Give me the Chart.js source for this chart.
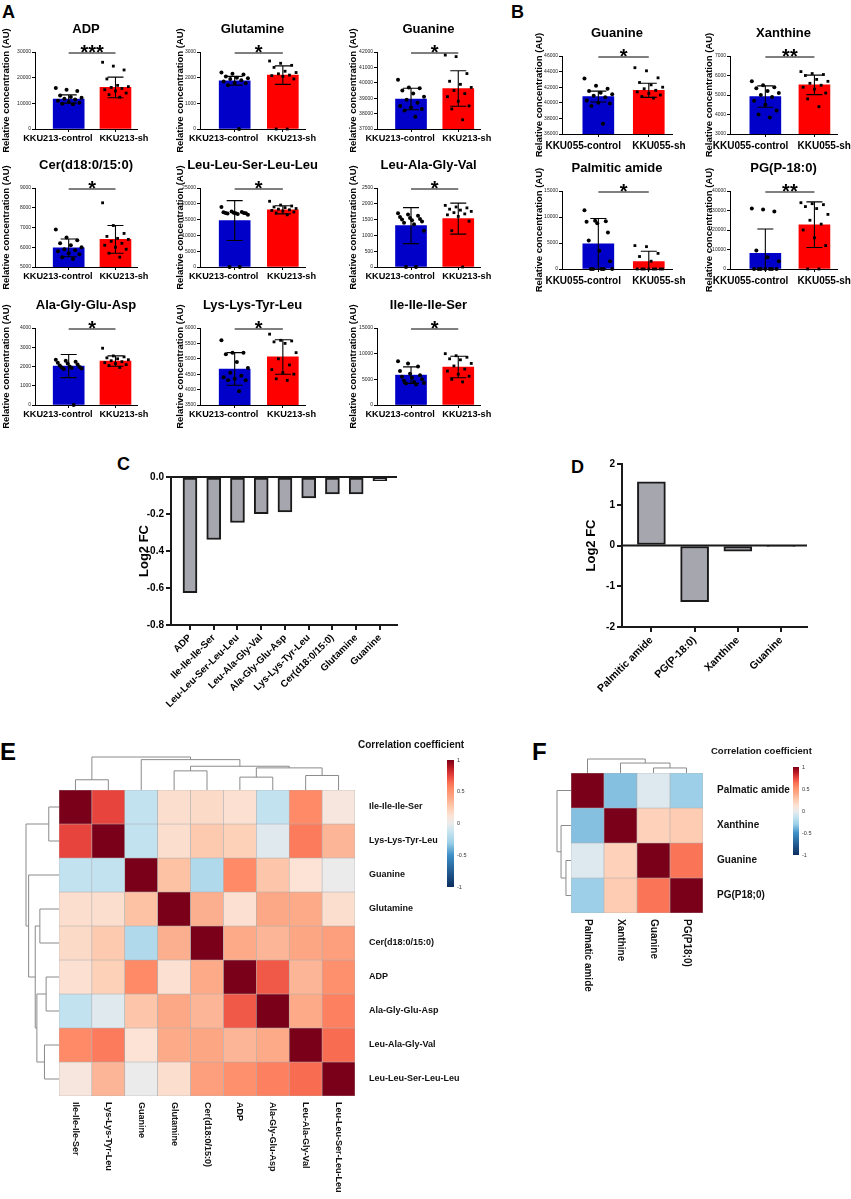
<!DOCTYPE html>
<html>
<head>
<meta charset="utf-8">
<script src="https://cdn.jsdelivr.net/npm/chart.js@4.4.1/dist/chart.umd.min.js"></script>
<style>
  body { margin: 0; background: #fff; width: 851px; height: 1199px; position: relative; overflow: hidden; font-family: "Liberation Sans", Arial, sans-serif; }
  canvas { position: absolute; }
  .lab { position: absolute; font-weight: bold; line-height: 1; color: #000; }
</style>
</head>
<body>
<div class="lab" style="left:2px;top:3px;font-size:18px">A</div>
<div class="lab" style="left:511px;top:3px;font-size:18px">B</div>
<div class="lab" style="left:117px;top:455px;font-size:18px">C</div>
<div class="lab" style="left:571px;top:458px;font-size:18px">D</div>
<div class="lab" style="left:0px;top:740px;font-size:24px">E</div>
<div class="lab" style="left:532px;top:740px;font-size:24px">F</div>
<script>
// ---- data ----
const groupsA = ['KKU213-control', 'KKU213-sh'];
const groupsB = ['KKU055-control', 'KKU055-sh'];

// panel A (KKU213) : individual samples, mean and SD per group
const adpControl = [16000, 15300, 14800, 13100, 12500, 12200, 11800, 11500, 11000, 10500, 10200, 9800, 9600];
const adpSh = [26000, 24500, 23000, 19500, 17000, 16500, 16200, 15800, 15300, 14800, 14000, 13400, 12400];
const adpMean = [11700, 16200], adpSd = [1600, 4000];

const glnControl = [2200, 2150, 2120, 2050, 2000, 1980, 1950, 1900, 1850, 1800, 1780, 1700, 0];
const glnSh = [2650, 2560, 2480, 2400, 2250, 2200, 2150, 2100, 2080, 2050, 1950, 0, 0];
const glnMean = [1880, 2100], glnSd = [170, 360];

const guaAControl = [40200, 39700, 39650, 39500, 39300, 39100, 38900, 38700, 38500, 38400, 38300, 38200, 37800];
const guaASh = [41800, 41700, 40600, 40100, 39900, 39700, 39500, 39300, 39100, 38800, 38500, 38300, 37600];
const guaAMean = [38950, 39630], guaASd = [700, 1150];

const cerControl = [6900, 6500, 6350, 6200, 6100, 6000, 5900, 5850, 5800, 5700, 5650, 5500, 5400];
const cerSh = [8250, 7100, 6700, 6550, 6450, 6400, 6300, 6200, 6100, 6000, 5900, 5700, 5500];
const cerMean = [5970, 6400], cerSd = [450, 700];

const llsllControl = [19000, 17600, 17400, 17300, 17200, 17100, 17100, 17000, 17000, 16900, 16800, 16500, 0, 0];
const llsllSh = [20800, 19600, 19300, 19000, 18800, 18500, 18300, 18100, 17900, 17700, 17400, 17100, 16500];
const llsllMean = [14700, 18100], llsllSd = [6300, 1300];

const lagvControl = [1700, 1660, 1620, 1580, 1550, 1520, 1500, 1480, 1440, 1400, 1350, 1150, 0, 0];
const lagvSh = [1950, 1900, 1870, 1830, 1800, 1760, 1720, 1680, 1650, 1600, 1450, 1150, 0];
const lagvMean = [1310, 1530], lagvSd = [570, 490];

const agedControl = [2350, 2300, 2250, 2200, 2150, 2100, 2050, 2000, 1980, 1950, 1920, 1900, 1870, 0];
const agedSh = [2950, 2550, 2500, 2450, 2400, 2350, 2300, 2250, 2200, 2150, 2100, 2050, 1950];
const agedMean = [2020, 2280], agedSd = [600, 270];

const kkylControl = [5600, 5200, 5200, 5150, 4900, 4700, 4550, 4450, 4400, 4350, 4300, 4300, 3950];
const kkylSh = [5800, 5600, 5580, 5550, 5500, 5200, 5000, 4800, 4650, 4550, 4500, 4350, 4300];
const kkylMean = [4670, 5060], kkylSd = [530, 560];

const iiisControl = [8500, 8100, 7500, 6600, 6100, 5800, 5500, 5300, 5000, 4700, 4500, 4300, 4200, 4000];
const iiisSh = [10000, 9600, 9300, 9000, 8800, 8100, 7600, 7000, 6600, 6000, 5600, 5000, 4500];
const iiisMean = [5820, 7400], iiisSd = [1600, 2100];

// panel B (KKU055)
const guaBControl = [43100, 42200, 41800, 41500, 41300, 41100, 40900, 40700, 40300, 40000, 39900, 39600, 37300];
const guaBSh = [44500, 44100, 43200, 42600, 42300, 42000, 41800, 41600, 41400, 41200, 41000, 40800, 40600];
const guaBMean = [40800, 41600], guaBSd = [700, 900];

const xanControl = [5700, 5500, 5400, 5350, 5200, 5100, 5000, 4900, 4700, 4500, 4200, 4000, 3850];
const xanSh = [6200, 6100, 6050, 6000, 5800, 5700, 5600, 5500, 5400, 5300, 5100, 4800, 4400];
const xanMean = [4920, 5520], xanSd = [550, 500];

const palControl = [11300, 9300, 9200, 9100, 8800, 7000, 5500, 3500, 1500, 0, 0, 0, 0, 0];
const palSh = [4500, 4300, 3000, 2400, 1500, 0, 0, 0, 0, 0, 0, 0, 0];
const palMean = [4850, 1420], palSd = [4850, 2000];

const pgControl = [31000, 30500, 29500, 9500, 6000, 4000, 0, 0, 0, 0, 0, 0, 0];
const pgSh = [34000, 33500, 33000, 32000, 31000, 28000, 25000, 23000, 20000, 16000, 12000, 0, 0];
const pgMean = [8000, 22700], pgSd = [12500, 11700];

// panel C / D : log2 fold change
const namesC = ['ADP', 'Ile-Ile-Ile-Ser', 'Leu-Leu-Ser-Leu-Leu', 'Leu-Ala-Gly-Val', 'Ala-Gly-Glu-Asp',
  'Lys-Lys-Tyr-Leu', 'Cer(d18:0/15:0)', 'Glutamine', 'Guanine'];
const fcC = [-0.625, -0.338, -0.246, -0.198, -0.189, -0.113, -0.092, -0.092, -0.02];
const namesD = ['Palmitic amide', 'PG(P-18:0)', 'Xanthine', 'Guanine'];
const fcD = [1.56, -1.38, -0.14, -0.03];

// panel E / F : correlation matrices (row order = column order)
const namesE = ['Ile-Ile-Ile-Ser', 'Lys-Lys-Tyr-Leu', 'Guanine', 'Glutamine', 'Cer(d18:0/15:0)',
  'ADP', 'Ala-Gly-Glu-Asp', 'Leu-Ala-Gly-Val', 'Leu-Leu-Ser-Leu-Leu'];
const corrE = [
  [1, 0.75, -0.15, 0.15, 0.17, 0.13, -0.15, 0.55, 0.08],
  [0.75, 1, -0.15, 0.15, 0.26, 0.23, -0.04, 0.6, 0.35],
  [-0.15, -0.15, 1, 0.3, -0.22, 0.55, 0.28, 0.12, 0],
  [0.15, 0.15, 0.3, 1, 0.38, 0.13, 0.41, 0.4, 0.15],
  [0.17, 0.26, -0.22, 0.38, 1, 0.4, 0.35, 0.42, 0.45],
  [0.13, 0.23, 0.55, 0.13, 0.4, 1, 0.7, 0.35, 0.52],
  [-0.15, -0.04, 0.28, 0.41, 0.35, 0.7, 1, 0.4, 0.58],
  [0.55, 0.6, 0.12, 0.4, 0.42, 0.35, 0.4, 1, 0.65],
  [0.08, 0.35, 0, 0.15, 0.45, 0.52, 0.58, 0.65, 1]
];
// hierarchical clustering: [left, right, height]; ids >= n are earlier merges
const treeE = [[0, 1, 0.31], [3, 4, 0.58], [5, 6, 0.39], [7, 8, 0.44], [11, 12, 0.67], [10, 13, 0.72], [2, 14, 0.92], [9, 15, 1.0]];

const namesF = ['Palmatic amide', 'Xanthine', 'Guanine', 'PG(P18;0)'];
const corrF = [
  [1, -0.35, -0.05, -0.3],
  [-0.35, 1, 0.22, 0.25],
  [-0.05, 0.22, 1, 0.62],
  [-0.3, 0.25, 0.62, 1]
];
const treeF = [[2, 3, 0.36], [1, 4, 0.71], [0, 5, 1.0]];

// ---- style ----
const FONT = '"Liberation Sans", Arial, sans-serif';
Chart.defaults.font.family = FONT;
Chart.defaults.color = '#000';
const BLUE = '#0000c8', RED = '#ff0000';
const colorStops = [
  [-1, '#0b2c5e'], [-0.5, '#3d8fc7'], [-0.3, '#9dd0e8'], [-0.12, '#c9e5f1'], [0, '#ebebeb'],
  [0.12, '#fce3d6'], [0.25, '#fdccb2'], [0.4, '#fcaa88'], [0.55, '#ff8a67'], [0.65, '#f86c52'],
  [0.75, '#e8443e'], [0.9, '#b0131f'], [1, '#7a0019']
];

function hexRgb(h) { return [1, 3, 5].map(i => parseInt(h.substr(i, 2), 16)); }
function corrColor(v) {
  for (let i = 1; i < colorStops.length; i++) {
    const [v0, c0] = colorStops[i - 1], [v1, c1] = colorStops[i];
    if (v <= v1) {
      const t = (v - v0) / (v1 - v0), a = hexRgb(c0), b = hexRgb(c1);
      return 'rgb(' + a.map((x, k) => Math.round(x + (b[k] - x) * t)).join(',') + ')';
    }
  }
  return colorStops[colorStops.length - 1][1];
}

function addCanvas(left, top, w, h) {
  const c = document.createElement('canvas');
  c.width = w; c.height = h;
  c.style.left = left + 'px'; c.style.top = top + 'px';
  c.style.width = w + 'px'; c.style.height = h + 'px';
  document.body.appendChild(c);
  return c;
}

// horizontal spread of the dots inside a bar (layout only)
const spread = (i, n) => n > 1 ? (((i * 5) % n) / (n - 1) - 0.5) * 0.55 : 0;

// ---- small bar + dot plots (A, B) ----
function dotBar(p) {
  const left = p.titleX - 6;
  const top = p.top - 42;
  const cv = addCanvas(left, top, p.right - left + 18, p.bottom - p.top + 42 + 30);
  const deco = {
    id: 'deco',
    afterDatasetsDraw(c) {
      const { ctx, chartArea: a, scales: { x, y } } = c;
      ctx.save();
      ctx.beginPath();
      ctx.rect(a.left, a.top - 2, a.right - a.left, a.bottom - a.top + 2);
      ctx.clip();
      ctx.strokeStyle = '#000';
      ctx.lineWidth = 1.1;
      p.mean.forEach((m, i) => {
        const px = x.getPixelForValue(i);
        const hi = y.getPixelForValue(m + p.sd[i]), lo = y.getPixelForValue(m - p.sd[i]);
        ctx.beginPath();
        ctx.moveTo(px, lo); ctx.lineTo(px, hi);
        ctx.moveTo(px - 8, hi); ctx.lineTo(px + 8, hi);
        ctx.moveTo(px - 8, lo); ctx.lineTo(px + 8, lo);
        ctx.stroke();
      });
      ctx.restore();
    },
    afterDraw(c) {
      const { ctx, chartArea: a, scales: { x } } = c;
      ctx.save();
      ctx.fillStyle = '#000';
      ctx.textAlign = 'center';
      ctx.font = 'bold 13px ' + FONT;
      ctx.textBaseline = 'middle';
      ctx.fillText(p.title, (a.left + a.right) / 2, a.top - 23);
      const x0 = x.getPixelForValue(0), x1 = x.getPixelForValue(1), ly = a.top + 1;
      ctx.strokeStyle = '#000';
      ctx.lineWidth = 1.1;
      ctx.beginPath(); ctx.moveTo(x0, ly); ctx.lineTo(x1, ly); ctx.stroke();
      ctx.font = 'bold 20px ' + FONT;
      ctx.textBaseline = 'alphabetic';
      ctx.fillText(p.stars, (x0 + x1) / 2, ly + 5.5);
      ctx.restore();
    }
  };
  new Chart(cv, {
    type: 'bar',
    data: {
      datasets: [
        { type: 'scatter', data: p.ctrl.map((v, i) => ({ x: spread(i, p.ctrl.length), y: v })),
          pointStyle: 'circle', radius: 2, backgroundColor: '#000', borderWidth: 0, clip: false },
        { type: 'scatter', data: p.sh.map((v, i) => ({ x: 1 + spread(i, p.sh.length), y: v })),
          pointStyle: 'rect', radius: 2, backgroundColor: '#000', borderWidth: 0, clip: false },
        { type: 'bar', data: p.mean.map((v, i) => ({ x: i, y: v })), backgroundColor: [BLUE, RED],
          barThickness: 31, borderWidth: 0 }
      ]
    },
    options: {
      responsive: false,
      animation: false,
      layout: { padding: { top: 42, right: 18 } },
      plugins: { legend: { display: false }, tooltip: { enabled: false } },
      scales: {
        x: {
          type: 'linear', min: -0.72, max: 1.46, offset: false, weight: 0,
          afterBuildTicks: s => { s.ticks = [{ value: 0 }, { value: 1 }]; },
          afterFit: s => { s.height = 4; s.paddingLeft = 0; s.paddingRight = 0; },
          ticks: { display: false },
          grid: { drawOnChartArea: false, tickLength: 3, color: '#000', offset: false },
          border: { color: '#000', width: 1 }
        },
        xl: {
          type: 'linear', position: 'bottom', min: -0.72, max: 1.46, offset: false, weight: 1,
          afterBuildTicks: s => { s.ticks = p.labelPos.map(v => ({ value: v })); },
          afterFit: s => { s.height = 26; s.paddingLeft = 0; s.paddingRight = 0; },
          ticks: { callback: (v, i) => p.groups[i], font: { size: p.labelSize, weight: 'bold' }, color: '#000',
            padding: p.labelPad, maxRotation: 0, autoSkip: false },
          grid: { display: false, drawTicks: false },
          border: { display: false }
        },
        y: {
          min: p.yMin, max: p.yMax,
          afterFit: s => { s.width = p.axisX - left; },
          ticks: { stepSize: p.yStep, callback: v => String(v), font: { size: 5 }, color: '#222', padding: 1 },
          grid: { drawOnChartArea: false, tickLength: 3, color: '#000' },
          border: { color: '#000', width: 1 },
          title: { display: true, text: 'Relative concentration (AU)', font: { size: 9.5, weight: 'bold' },
            color: '#000', padding: 0 }
        }
      }
    },
    plugins: [deco]
  });
}

const colA = [{ titleX: 7, axisX: 35, right: 137 }, { titleX: 181, axisX: 200, right: 305 }, { titleX: 354, axisX: 377, right: 480 }];
const rowA = [{ top: 52, bottom: 129 }, { top: 188, bottom: 267 }, { top: 328, bottom: 405 }];
const colB = [{ titleX: 540, axisX: 562, right: 672 }, { titleX: 710, axisX: 730, right: 837 }];
const rowB = [{ top: 56, bottom: 134 }, { top: 191, bottom: 269 }];
const labelsA = { groups: groupsA, labelPos: [-0.23, 1.18], labelSize: 9.2, labelPad: 0 };
const labelsB = { groups: groupsB, labelPos: [-0.3, 1.2], labelSize: 10, labelPad: 2 };

const plotsA = [
  { title: 'ADP', ctrl: adpControl, sh: adpSh, mean: adpMean, sd: adpSd, stars: '***', yMin: 0, yMax: 30000, yStep: 10000 },
  { title: 'Glutamine', ctrl: glnControl, sh: glnSh, mean: glnMean, sd: glnSd, stars: '*', yMin: 0, yMax: 3000, yStep: 1000 },
  { title: 'Guanine', ctrl: guaAControl, sh: guaASh, mean: guaAMean, sd: guaASd, stars: '*', yMin: 37000, yMax: 42000, yStep: 1000 },
  { title: 'Cer(d18:0/15:0)', ctrl: cerControl, sh: cerSh, mean: cerMean, sd: cerSd, stars: '*', yMin: 5000, yMax: 9000, yStep: 1000 },
  { title: 'Leu-Leu-Ser-Leu-Leu', ctrl: llsllControl, sh: llsllSh, mean: llsllMean, sd: llsllSd, stars: '*', yMin: 0, yMax: 25000, yStep: 5000 },
  { title: 'Leu-Ala-Gly-Val', ctrl: lagvControl, sh: lagvSh, mean: lagvMean, sd: lagvSd, stars: '*', yMin: 0, yMax: 2500, yStep: 500 },
  { title: 'Ala-Gly-Glu-Asp', ctrl: agedControl, sh: agedSh, mean: agedMean, sd: agedSd, stars: '*', yMin: 0, yMax: 4000, yStep: 1000 },
  { title: 'Lys-Lys-Tyr-Leu', ctrl: kkylControl, sh: kkylSh, mean: kkylMean, sd: kkylSd, stars: '*', yMin: 3500, yMax: 6000, yStep: 500 },
  { title: 'Ile-Ile-Ile-Ser', ctrl: iiisControl, sh: iiisSh, mean: iiisMean, sd: iiisSd, stars: '*', yMin: 0, yMax: 15000, yStep: 5000 }
];
plotsA.forEach((p, i) => dotBar(Object.assign({}, labelsA, p, colA[i % 3], rowA[Math.floor(i / 3)])));

const plotsB = [
  { title: 'Guanine', ctrl: guaBControl, sh: guaBSh, mean: guaBMean, sd: guaBSd, stars: '*', yMin: 36000, yMax: 46000, yStep: 2000 },
  { title: 'Xanthine', ctrl: xanControl, sh: xanSh, mean: xanMean, sd: xanSd, stars: '**', yMin: 3000, yMax: 7000, yStep: 1000 },
  { title: 'Palmitic amide', ctrl: palControl, sh: palSh, mean: palMean, sd: palSd, stars: '*', yMin: 0, yMax: 15000, yStep: 5000 },
  { title: 'PG(P-18:0)', ctrl: pgControl, sh: pgSh, mean: pgMean, sd: pgSd, stars: '**', yMin: 0, yMax: 40000, yStep: 10000 }
];
plotsB.forEach((p, i) => dotBar(Object.assign({}, labelsB, p, colB[i % 2], rowB[Math.floor(i / 2)])));

// ---- fold change bars (C, D) ----
const zeroLine = {
  id: 'zero',
  afterDatasetsDraw(c) {
    const { ctx, chartArea: a, scales: { y } } = c;
    const py = y.getPixelForValue(0);
    ctx.save();
    ctx.strokeStyle = '#1a1a1a';
    ctx.lineWidth = 2;
    ctx.beginPath(); ctx.moveTo(a.left, py); ctx.lineTo(a.right, py); ctx.stroke();
    ctx.restore();
  }
};

function fcBar(o) {
  const cv = addCanvas(o.left, o.areaTop - o.padTop, o.right + 13 - o.left, o.padTop + (o.areaBottom - o.areaTop) + o.xHeight);
  new Chart(cv, {
    type: 'bar',
    data: {
      datasets: [{ data: o.values.map((v, i) => ({ x: i, y: v })), backgroundColor: '#a6a6ae',
        borderColor: '#1a1a1a', borderWidth: 2, borderSkipped: false, barThickness: o.barW }]
    },
    options: {
      responsive: false,
      animation: false,
      layout: { padding: { top: o.padTop, right: 13 } },
      plugins: { legend: { display: false }, tooltip: { enabled: false } },
      scales: {
        x: {
          type: 'linear', min: o.xMin, max: o.xMax, offset: false,
          afterBuildTicks: s => { s.ticks = o.names.map((_, i) => ({ value: i })); },
          afterFit: s => { s.height = o.xHeight; s.paddingLeft = 0; s.paddingRight = 0; },
          ticks: { callback: v => o.names[v], minRotation: 45, maxRotation: 45, autoSkip: false,
            font: { size: o.labelSize, weight: 'bold' }, color: '#000', padding: 2 },
          grid: { drawOnChartArea: false, tickLength: 5, color: '#1a1a1a', lineWidth: 2, offset: false },
          border: { color: '#1a1a1a', width: 2 }
        },
        y: {
          min: o.yMin, max: o.yMax,
          afterFit: s => { s.width = o.axisX - o.left; },
          ticks: { stepSize: o.yStep, callback: o.fmt, font: { size: 10, weight: 'bold' }, color: '#000', padding: 2 },
          grid: { drawOnChartArea: false, tickLength: 5, color: '#1a1a1a', lineWidth: 2 },
          border: { color: '#1a1a1a', width: 2 },
          title: { display: true, text: 'Log2 FC', font: { size: 13, weight: 'bold' }, color: '#000',
            padding: { top: o.titlePad, bottom: 0 } }
        }
      }
    },
    plugins: [zeroLine]
  });
}

fcBar({ names: namesC, values: fcC, left: 130, axisX: 171, right: 397, areaTop: 477, areaBottom: 625,
  padTop: 17, xHeight: 95, titlePad: 7, barW: 14, xMin: -0.8, xMax: 8.72, labelSize: 9.8,
  yMin: -0.8, yMax: 0, yStep: 0.2, fmt: v => v.toFixed(1) });
fcBar({ names: namesD, values: fcD, left: 578, axisX: 622, right: 807, areaTop: 464, areaBottom: 627,
  padTop: 14, xHeight: 80, titlePad: 6, barW: 28, xMin: -0.68, xMax: 3.6, labelSize: 10.5,
  yMin: -2, yMax: 2, yStep: 1, fmt: v => String(v) });

// ---- heatmaps (E, F) ----
function drawTree(ctx, leafPos, merges, base, span, top) {
  const pos = leafPos.slice(), ht = leafPos.map(() => 0);
  ctx.beginPath();
  merges.forEach(([a, b, h]) => {
    const pa = pos[a], pb = pos[b];
    if (top) {
      ctx.moveTo(pa, base - ht[a] * span); ctx.lineTo(pa, base - h * span);
      ctx.lineTo(pb, base - h * span); ctx.lineTo(pb, base - ht[b] * span);
    } else {
      ctx.moveTo(base - ht[a] * span, pa); ctx.lineTo(base - h * span, pa);
      ctx.lineTo(base - h * span, pb); ctx.lineTo(base - ht[b] * span, pb);
    }
    pos.push((pa + pb) / 2);
    ht.push(h);
  });
  ctx.stroke();
}

function heatmap(o) {
  const cv = addCanvas(o.left, o.top, o.width, o.height);
  const n = o.names.length;
  const extras = {
    id: 'extras',
    afterDraw(c) {
      const { ctx, chartArea: a, scales: { x, yr } } = c;
      ctx.save();
      // dendrograms
      ctx.strokeStyle = '#8a8a8a';
      ctx.lineWidth = 1;
      drawTree(ctx, o.names.map((_, i) => x.getPixelForValue(i)), o.tree, a.top, o.treeSpan, true);
      drawTree(ctx, o.names.map((_, i) => yr.getPixelForValue(i)), o.tree, a.left, o.treeSpan, false);
      // column labels, reading downwards
      ctx.fillStyle = '#111';
      ctx.font = 'bold ' + o.labelSize + 'px ' + FONT;
      ctx.textAlign = 'left';
      ctx.textBaseline = 'middle';
      o.names.forEach((name, i) => {
        ctx.save();
        ctx.translate(x.getPixelForValue(i), a.bottom + 6);
        ctx.rotate(Math.PI / 2);
        ctx.fillText(name, 0, 0);
        ctx.restore();
      });
      // colour key
      ctx.font = 'bold ' + o.keyTitleSize + 'px ' + FONT;
      ctx.fillStyle = '#111';
      ctx.fillText('Correlation coefficient', o.keyTitleX, o.keyTitleY);
      const g = ctx.createLinearGradient(0, o.barY + o.barH, 0, o.barY);
      colorStops.forEach(([v, col]) => g.addColorStop((v + 1) / 2, col));
      ctx.fillStyle = g;
      ctx.fillRect(o.barX, o.barY, o.barW, o.barH);
      ctx.font = '5.5px ' + FONT;
      ctx.fillStyle = '#333';
      [1, 0.5, 0, -0.5, -1].forEach(v => {
        ctx.fillText(String(v), o.barX + o.barW + 3, o.barY + (1 - v) / 2 * o.barH);
      });
      ctx.restore();
    }
  };
  new Chart(cv, {
    type: 'bar',
    data: {
      labels: o.names,
      datasets: o.matrix.map(row => ({
        data: row.map(() => 1),
        backgroundColor: row.map(corrColor),
        borderColor: '#b0b0b0', borderWidth: 0.6, borderSkipped: false,
        barPercentage: 1, categoryPercentage: 1
      }))
    },
    options: {
      responsive: false,
      animation: false,
      layout: { padding: o.pad },
      plugins: { legend: { display: false }, tooltip: { enabled: false } },
      scales: {
        x: { stacked: true, display: false },
        y: { stacked: true, display: false, reverse: true, min: 0, max: n },
        yr: {
          type: 'category', labels: o.names, position: 'right', offset: true,
          afterFit: s => { s.width = o.labelWidth; },
          grid: { display: false }, border: { display: false },
          ticks: { font: { size: o.labelSize, weight: 'bold' }, color: '#111', padding: 6, autoSkip: false }
        }
      }
    },
    plugins: [extras]
  });
}

heatmap({ names: namesE, matrix: corrE, tree: treeE, treeSpan: 33,
  left: 0, top: 730, width: 480, height: 469, pad: { left: 59, top: 60, bottom: 103 }, labelWidth: 125,
  labelSize: 9, keyTitleSize: 10, keyTitleX: 358, keyTitleY: 15,
  barX: 447, barY: 30, barW: 7, barH: 127 });
heatmap({ names: namesF, matrix: corrF, tree: treeF, treeSpan: 14,
  left: 520, top: 730, width: 331, height: 469, pad: { left: 51, top: 43, bottom: 286 }, labelWidth: 148,
  labelSize: 10, keyTitleSize: 9.5, keyTitleX: 191, keyTitleY: 21,
  barX: 273, barY: 37, barW: 6, barH: 88 });
</script>
</body>
</html>
